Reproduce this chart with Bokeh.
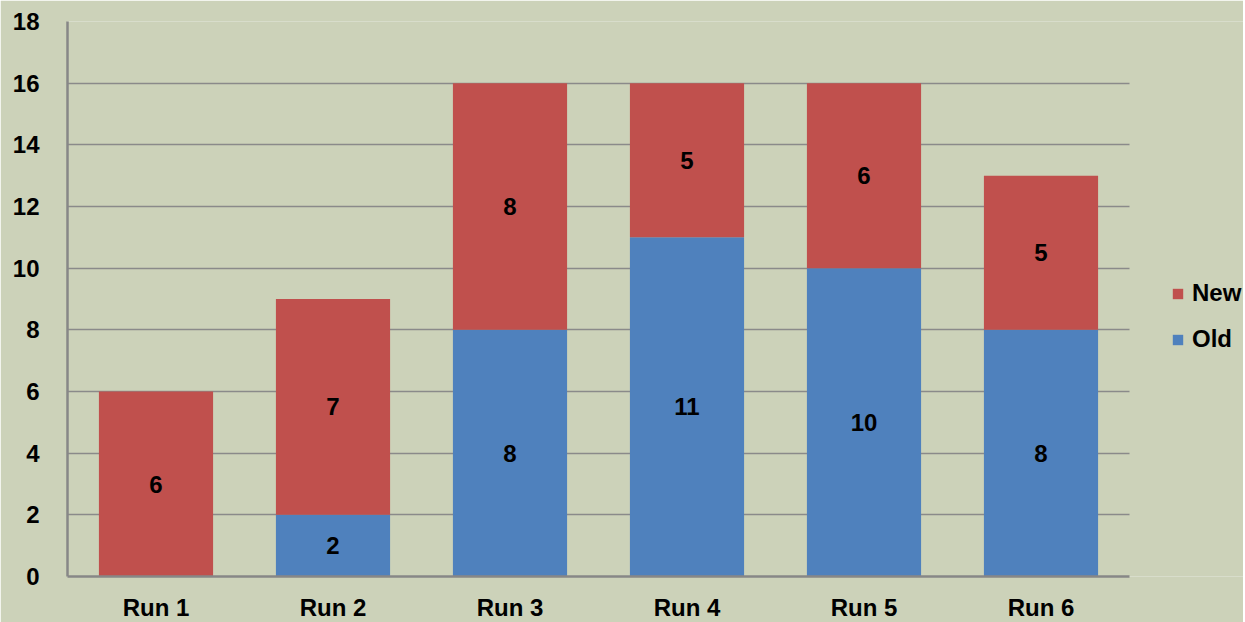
from bokeh.plotting import figure
from bokeh.models import ColumnDataSource, Legend, LegendItem, Range1d, FixedTicker, LabelSet
from bokeh.embed import file_html
from bokeh.resources import INLINE
from bokeh.core.properties import value

runs = ["Run 1", "Run 2", "Run 3", "Run 4", "Run 5", "Run 6"]
old = [0, 2, 8, 11, 10, 8]
new = [6, 7, 8, 5, 6, 5]
y_ticks = [0, 2, 4, 6, 8, 10, 12, 14, 16, 18]

BG = "#CCD2B9"
RED = "#C0504D"
BLUE = "#4F81BD"
FONT = "Liberation Sans"
FS = "24px"

xs = list(range(len(runs)))
old_mid = [o / 2 for o in old]
new_mid = [o + n / 2 for o, n in zip(old, new)]
old_lbl = [str(o) if o > 0 else "" for o in old]
new_lbl = [str(n) for n in new]

src = ColumnDataSource(dict(x=xs, old=old, new=new,
                            old_mid=old_mid, new_mid=new_mid,
                            old_lbl=old_lbl, new_lbl=new_lbl))

FRAME_W = 1176
UNIT_PX = 1062 / len(runs)
x_end = -0.5 + FRAME_W / UNIT_PX

p = figure(x_range=Range1d(-0.5, x_end), y_range=Range1d(0, 18),
           frame_width=FRAME_W, frame_height=555,
           output_backend="svg", toolbar_location=None,
           background_fill_color=BG, border_fill_color=BG,
           min_border_left=67, min_border_top=21, min_border_bottom=37,
           min_border_right=0)
p.outline_line_color = None

r = p.vbar_stack(["old", "new"], x="x", width=0.645, color=[BLUE, RED],
                 line_color=None, source=src)

for col, lbl in (("old_mid", "old_lbl"), ("new_mid", "new_lbl")):
    p.add_layout(LabelSet(x="x", y=col, text=lbl, source=src,
                          text_align="center", text_baseline="middle",
                          text_font=value(FONT), text_font_style="bold",
                          text_font_size=FS, text_color="black"))

p.yaxis.ticker = FixedTicker(ticks=y_ticks)
p.ygrid.ticker = FixedTicker(ticks=y_ticks)
p.xaxis.ticker = FixedTicker(ticks=xs)
p.xaxis.major_label_overrides = {i: name for i, name in zip(xs, runs)}
p.xaxis.bounds = (-0.5, len(runs) - 0.5)
p.xgrid.grid_line_color = None
p.ygrid.grid_line_color = "#8A8A8A"
p.ygrid.grid_line_width = 1.5
p.ygrid.cross_bounds = (-0.5, len(runs) - 0.5)

for ax in (p.xaxis, p.yaxis):
    ax.axis_line_color = "#878787"
    ax.axis_line_width = 2.5
    ax.major_tick_line_color = None
    ax.minor_tick_line_color = None
    ax.major_label_text_font = FONT
    ax.major_label_text_font_style = "bold"
    ax.major_label_text_font_size = FS
    ax.major_label_text_color = "black"
p.yaxis.major_label_standoff = 22
p.xaxis.major_label_standoff = 11

legend = Legend(items=[LegendItem(label="New", renderers=[r[1]]),
                       LegendItem(label="Old", renderers=[r[0]])],
                background_fill_alpha=0, border_line_color=None,
                label_text_font=FONT, label_text_font_style="bold",
                label_text_font_size=FS, label_text_color="black",
                glyph_width=13, glyph_height=13,
                spacing=18, label_standoff=8, padding=0, margin=0,
                location=(1104, 223))
p.add_layout(legend, "center")

open("out.html", "w").write(file_html(p, INLINE))
